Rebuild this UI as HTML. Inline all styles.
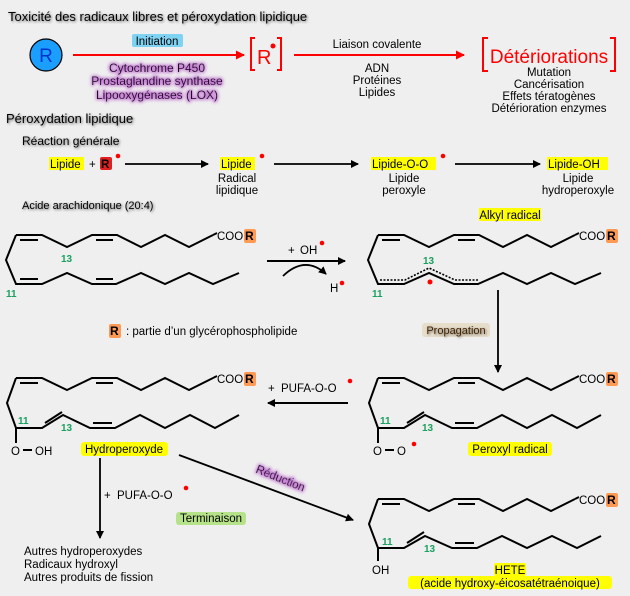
<!DOCTYPE html>
<html><head><meta charset="utf-8"><style>
body{margin:0;background:#efefef;}
svg{display:block;font-family:"Liberation Sans",sans-serif;}
.t{font-size:11.5px;fill:#000}
.sh{filter:url(#sh)}
</style></head><body>
<svg width="630" height="596" viewBox="0 0 630 596" xmlns="http://www.w3.org/2000/svg">
<defs>
<filter id="sh" x="-10%" y="-30%" width="120%" height="160%"><feGaussianBlur in="SourceAlpha" stdDeviation="1.3" result="b"/><feOffset dx="1" dy="1"/><feComponentTransfer><feFuncA type="linear" slope="0.6"/></feComponentTransfer><feMerge><feMergeNode/><feMergeNode in="SourceGraphic"/></feMerge></filter>
<filter id="glowP" x="-10%" y="-40%" width="120%" height="180%"><feMorphology in="SourceAlpha" operator="dilate" radius="1.2" result="d"/><feGaussianBlur in="d" stdDeviation="1.5" result="b"/><feFlood flood-color="#c070d0" flood-opacity="0.9"/><feComposite in2="b" operator="in"/><feMerge><feMergeNode/><feMergeNode in="SourceGraphic"/></feMerge></filter>
<marker id="ab" markerWidth="8" markerHeight="8" refX="7" refY="4" orient="auto" markerUnits="userSpaceOnUse"><path d="M0,0 L8,4 L0,8 Z" fill="#000"/></marker>
<marker id="ar" markerWidth="9" markerHeight="9" refX="8" refY="4.5" orient="auto" markerUnits="userSpaceOnUse"><path d="M0,0 L9,4.5 L0,9 Z" fill="#f00"/></marker>
<g id="top" fill="none" stroke="#000" stroke-width="2">
<polyline points="16,235 42,235 67,247 92,235 117,235 141,247 165,235 189,247 213,235"/>
<line x1="20" y1="240" x2="38" y2="240"/><line x1="96" y1="240" x2="113" y2="240"/>
</g>
</defs>

<text x="8" y="21" class="sh" font-size="13">Toxicité des radicaux libres  et péroxydation lipidique</text>
<circle cx="46" cy="55" r="16" fill="#1a9fff" stroke="#000" stroke-width="1.2"/>
<text x="46" y="62" text-anchor="middle" font-size="19" fill="#0033cc">R</text>
<line x1="73" y1="55" x2="244" y2="55" stroke="#f00" stroke-width="2" marker-end="url(#ar)"/>
<rect x="132" y="34" width="51" height="13" fill="#4ec8f5" opacity="0.7" rx="2"/>
<text x="157" y="45" text-anchor="middle" class="t">Initiation</text>
<g filter="url(#glowP)" font-size="12" fill="#1a0a20" text-anchor="middle">
<text x="157" y="72">Cytochrome P450</text>
<text x="157" y="85">Prostaglandine synthase</text>
<text x="157" y="99">Lipooxygénases (LOX)</text>
</g>
<path d="M255,38 H251 V70 H255 M277,38 H281 V70 H277" fill="none" stroke="#f00" stroke-width="2"/>
<text x="257" y="64" font-size="20" fill="#f00">R</text>
<circle cx="273" cy="46" r="2.5" fill="#f00"/>
<line x1="294" y1="55" x2="464" y2="55" stroke="#f00" stroke-width="2" marker-end="url(#ar)"/>
<text x="377" y="48" text-anchor="middle" class="t">Liaison covalente</text>
<text x="377" y="72" text-anchor="middle" class="t">ADN</text>
<text x="377" y="84" text-anchor="middle" class="t">Protéines</text>
<text x="377" y="96" text-anchor="middle" class="t">Lipides</text>
<path d="M488,38 H483 V71 H488 M610,38 H615 V71 H610" fill="none" stroke="#f00" stroke-width="2"/>
<text x="549" y="63" text-anchor="middle" font-size="19" fill="#f00">Détériorations</text>
<text x="549" y="76" text-anchor="middle" class="t">Mutation</text>
<text x="549" y="88" text-anchor="middle" class="t">Cancérisation</text>
<text x="549" y="100" text-anchor="middle" class="t">Effets tératogènes</text>
<text x="549" y="112" text-anchor="middle" class="t">Détérioration enzymes</text>

<text x="6" y="123" class="sh" font-size="13">Péroxydation lipidique</text>
<text x="22" y="145" class="sh" font-size="12">Réaction générale</text>

<rect x="49" y="157" width="35" height="13" fill="#ffff00"/>
<text x="50" y="168" class="t">Lipide</text>
<text x="89" y="168" class="t">+</text>
<rect x="100" y="157" width="12" height="13" fill="#e02020" rx="2"/>
<text x="101" y="168" class="t" font-weight="bold">R</text>
<circle cx="118" cy="156" r="2.3" fill="#f00"/>
<line x1="125" y1="164" x2="208" y2="164" stroke="#000" stroke-width="1.8" marker-end="url(#ab)"/>
<rect x="220" y="157" width="35" height="13" fill="#ffff00"/>
<text x="221" y="168" class="t">Lipide</text>
<circle cx="262" cy="156" r="2.3" fill="#f00"/>
<text x="237" y="182" text-anchor="middle" class="t">Radical</text>
<text x="237" y="194" text-anchor="middle" class="t">lipidique</text>
<line x1="274" y1="164" x2="358" y2="164" stroke="#000" stroke-width="1.8" marker-end="url(#ab)"/>
<rect x="371" y="157" width="65" height="13" fill="#ffff00"/>
<text x="372" y="168" class="t">Lipide-O-O</text>
<circle cx="443" cy="156" r="2.3" fill="#f00"/>
<text x="404" y="182" text-anchor="middle" class="t">Lipide</text>
<text x="404" y="194" text-anchor="middle" class="t">peroxyle</text>
<line x1="455" y1="164" x2="540" y2="164" stroke="#000" stroke-width="1.8" marker-end="url(#ab)"/>
<rect x="547" y="157" width="61" height="13" fill="#ffff00"/>
<text x="548" y="168" class="t">Lipide-OH</text>
<text x="578" y="182" text-anchor="middle" class="t">Lipide</text>
<text x="578" y="194" text-anchor="middle" class="t">hydroperoxyle</text>

<text x="22" y="209" class="sh" font-size="11">Acide arachidonique  (20:4)</text>

<use href="#top"/>
<g fill="none" stroke="#000" stroke-width="2">
<polyline points="16,235 6,260 16,284 42,284 67,273 92,284 116,284 141,273 165,284 189,273 213,284 239,273"/>
<line x1="20" y1="279" x2="38" y2="279"/><line x1="96" y1="279" x2="113" y2="279"/>
<line x1="213" y1="235" x2="217" y2="233"/>
</g>
<text x="217" y="240" class="t" font-size="12">COO</text>
<rect x="244" y="229" width="12" height="14" fill="#ff9a55" rx="2"/>
<text x="245" y="240" font-size="12" font-weight="bold" fill="#000">R</text>
<text x="6" y="297" font-size="10" fill="#1aa060" font-weight="bold">11</text>
<text x="61" y="262" font-size="10" fill="#1aa060" font-weight="bold">13</text>

<line x1="267" y1="261" x2="345" y2="261" stroke="#000" stroke-width="2" marker-end="url(#ab)"/>
<text x="288" y="254" class="t" font-size="13">+</text>
<text x="300" y="254" class="t">OH</text>
<circle cx="322" cy="243" r="2.3" fill="#f00"/>
<path d="M283,276 Q305,255 326,274" fill="none" stroke="#000" stroke-width="1.8" marker-end="url(#ab)"/>
<text x="330" y="292" class="t">H</text>
<circle cx="342" cy="283" r="2.3" fill="#f00"/>

<rect x="479" y="208" width="62" height="13" fill="#ffff00"/>
<text x="510" y="219" text-anchor="middle" class="t">Alkyl radical</text>
<use href="#top" transform="translate(362,0)"/>
<g fill="none" stroke="#000" stroke-width="2">
<polyline points="378,235 368,260 378,284 404,284 429,273 454,284 478,284 503,273 527,284 551,273 575,284 601,273"/>
<line x1="575" y1="235" x2="579" y2="233"/>
<polyline points="380,280 405,280 429,268 455,280 478,280" stroke-dasharray="2,1.5" stroke-width="1.6"/>
</g>
<text x="579" y="240" class="t" font-size="12">COO</text>
<rect x="606" y="229" width="12" height="14" fill="#ff9a55" rx="2"/>
<text x="607" y="240" font-size="12" font-weight="bold">R</text>
<text x="372" y="297" font-size="10" fill="#1aa060" font-weight="bold">11</text>
<text x="423" y="264" font-size="10" fill="#1aa060" font-weight="bold">13</text>
<circle cx="430" cy="282" r="2.5" fill="#f00"/>

<rect x="109" y="324" width="12" height="14" fill="#ff9a55" rx="2"/>
<text x="110" y="335" font-size="12" font-weight="bold">R</text>
<text x="126" y="335" class="t" font-size="12">: partie d’un glycérophospholipide</text>

<line x1="498" y1="290" x2="498" y2="372" stroke="#000" stroke-width="1.8" marker-end="url(#ab)"/>
<rect x="422" y="323" width="68" height="14" fill="#e0d0b0" opacity="0.6" rx="3"/>
<text x="456" y="334" text-anchor="middle" class="sh" font-size="11" fill="#402000">Propagation</text>

<use href="#top" transform="translate(0,143)"/>
<g fill="none" stroke="#000" stroke-width="2">
<polyline points="16,378 7,403 16,428 42,428 63,415 90,428 115,428 140,415 165,428 190,415 215,428 239,415"/>
<line x1="45" y1="423" x2="62" y2="412"/><line x1="93" y1="423" x2="112" y2="423"/>
<line x1="213" y1="378" x2="217" y2="376"/>
<line x1="16" y1="428" x2="16" y2="443"/>
<line x1="23" y1="450" x2="32" y2="450"/>
</g>
<text x="217" y="383" class="t" font-size="12">COO</text>
<rect x="244" y="372" width="12" height="14" fill="#ff9a55" rx="2"/>
<text x="245" y="383" font-size="12" font-weight="bold">R</text>
<text x="18" y="424" font-size="10" fill="#1aa060" font-weight="bold">11</text>
<text x="61" y="431" font-size="10" fill="#1aa060" font-weight="bold">13</text>
<text x="11" y="455" class="t" font-size="12">O</text>
<text x="35" y="455" class="t" font-size="12">OH</text>
<rect x="81" y="442" width="87" height="14" fill="#ffff00" rx="3"/>
<text x="124" y="453" text-anchor="middle" class="t">Hydroperoxyde</text>

<line x1="348" y1="403" x2="268" y2="403" stroke="#000" stroke-width="2" marker-end="url(#ab)"/>
<text x="268" y="392" class="t" font-size="13">+</text>
<text x="281" y="392" class="t">PUFA-O-O</text>
<circle cx="350" cy="381" r="2.3" fill="#f00"/>

<use href="#top" transform="translate(362,143)"/>
<g fill="none" stroke="#000" stroke-width="2">
<polyline points="378,378 369,403 378,428 404,428 425,415 452,428 477,428 502,415 527,428 552,415 577,428 601,415"/>
<line x1="407" y1="423" x2="424" y2="412"/><line x1="455" y1="423" x2="474" y2="423"/>
<line x1="575" y1="378" x2="579" y2="376"/>
<line x1="378" y1="428" x2="378" y2="443"/>
<line x1="385" y1="450" x2="394" y2="450"/>
</g>
<text x="579" y="383" class="t" font-size="12">COO</text>
<rect x="606" y="372" width="12" height="14" fill="#ff9a55" rx="2"/>
<text x="607" y="383" font-size="12" font-weight="bold">R</text>
<text x="380" y="424" font-size="10" fill="#1aa060" font-weight="bold">11</text>
<text x="422" y="431" font-size="10" fill="#1aa060" font-weight="bold">13</text>
<text x="373" y="455" class="t" font-size="12">O</text>
<text x="397" y="455" class="t" font-size="12">O</text>
<circle cx="414" cy="444" r="2.3" fill="#f00"/>
<rect x="468" y="442" width="84" height="14" fill="#ffff00" rx="3"/>
<text x="510" y="453" text-anchor="middle" class="t">Peroxyl radical</text>

<line x1="100" y1="458" x2="100" y2="538" stroke="#000" stroke-width="1.8" marker-end="url(#ab)"/>
<text x="104" y="499" class="t" font-size="13">+</text>
<text x="117" y="499" class="t">PUFA-O-O</text>
<circle cx="186" cy="488" r="2.3" fill="#f00"/>
<rect x="176" y="512" width="70" height="13" fill="#a8e070" opacity="0.8" rx="3"/>
<text x="211" y="522" text-anchor="middle" class="t" fill="#103010">Terminaison</text>
<text x="24" y="555" class="t" font-size="12">Autres hydroperoxydes</text>
<text x="24" y="568" class="t" font-size="12">Radicaux hydroxyl</text>
<text x="24" y="581" class="t" font-size="12">Autres produits de fission</text>

<line x1="179" y1="455" x2="353" y2="520" stroke="#000" stroke-width="1.8" marker-end="url(#ab)"/>
<g transform="translate(279,482) rotate(22)">
<text x="0" y="0" text-anchor="middle" filter="url(#glowP)" class="t" fill="#1a0a20">Réduction</text>
</g>

<use href="#top" transform="translate(362,264)"/>
<g fill="none" stroke="#000" stroke-width="2">
<polyline points="378,499 369,524 378,548 404,548 425,536 452,548 477,548 502,536 527,548 552,536 577,548 601,536"/>
<line x1="407" y1="543" x2="424" y2="532"/><line x1="455" y1="543" x2="474" y2="543"/>
<line x1="575" y1="499" x2="579" y2="497"/>
<line x1="378" y1="548" x2="378" y2="561"/>
</g>
<text x="579" y="504" class="t" font-size="12">COO</text>
<rect x="606" y="493" width="12" height="14" fill="#ff9a55" rx="2"/>
<text x="607" y="504" font-size="12" font-weight="bold">R</text>
<text x="382" y="545" font-size="10" fill="#1aa060" font-weight="bold">11</text>
<text x="424" y="552" font-size="10" fill="#1aa060" font-weight="bold">13</text>
<text x="372" y="574" class="t" font-size="12">OH</text>
<rect x="494" y="563" width="32" height="13" fill="#ffff00" rx="2"/>
<text x="510" y="574" text-anchor="middle" class="t">HETE</text>
<rect x="408" y="576" width="204" height="13" fill="#ffff00" rx="3"/>
<text x="510" y="587" text-anchor="middle" class="t">(acide hydroxy-éicosatétraénoique)</text>
</svg>
</body></html>
